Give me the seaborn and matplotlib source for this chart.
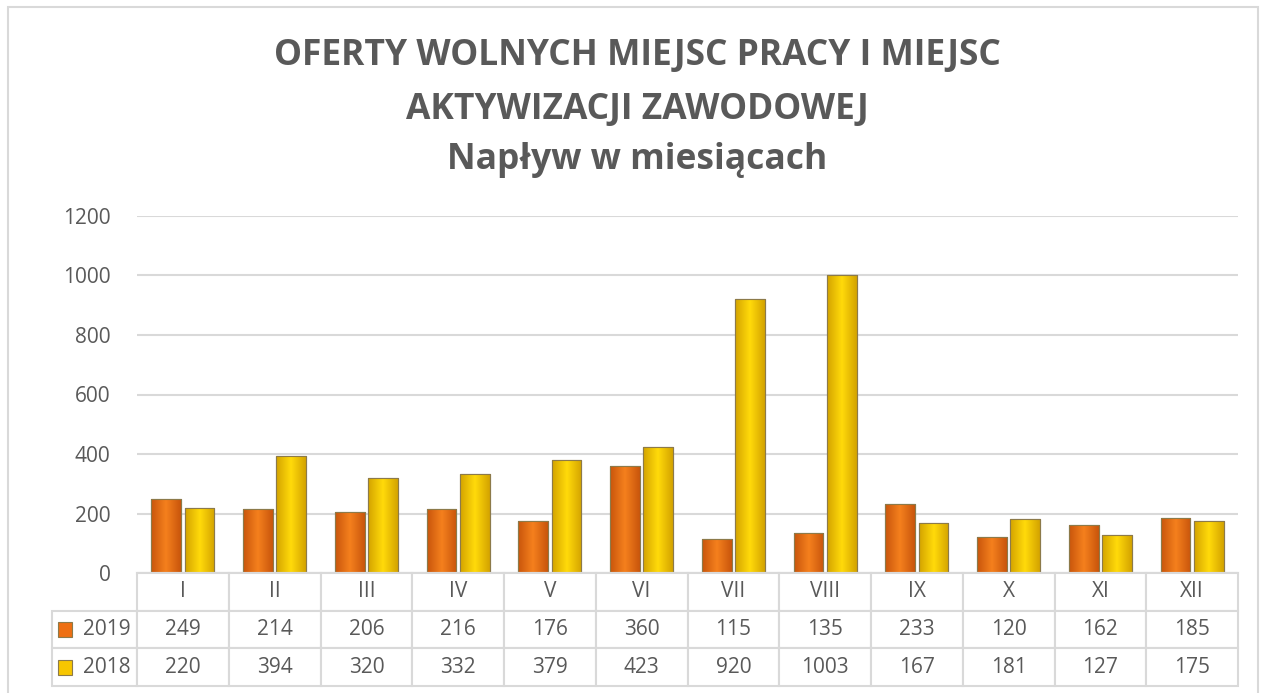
import seaborn as sns
import matplotlib.pyplot as plt
import numpy as np
import pandas as pd
from matplotlib.table import Table
from matplotlib.patches import Rectangle
from matplotlib.colors import LinearSegmentedColormap

# dane z wykresu
miesiace = ["I", "II", "III", "IV", "V", "VI", "VII", "VIII", "IX", "X", "XI", "XII"]
lata = ["2019", "2018"]
oferty_2019 = [249, 214, 206, 216, 176, 360, 115, 135, 233, 120, 162, 185]
oferty_2018 = [220, 394, 320, 332, 379, 423, 920, 1003, 167, 181, 127, 175]

df = pd.DataFrame({
    "miesiac": miesiace * 2,
    "rok": [lata[0]] * 12 + [lata[1]] * 12,
    "oferty": oferty_2019 + oferty_2018,
})

sns.set_style("white")
plt.rcParams['font.family'] = ['Open Sans', 'DejaVu Sans']
szary = "#595959"
linia = "#d9d9d9"
kolory = {"2019": "#EE6F12", "2018": "#F7C600"}
cieniowanie = {
    "2019": LinearSegmentedColormap.from_list("o", ["#C9560C", "#F47F1D"]),
    "2018": LinearSegmentedColormap.from_list("y", ["#D4A400", "#FFD90A"]),
}

fig = plt.figure(figsize=(12.67, 6.93), dpi=100)
W, H = 1267, 693

# ramka wokol calego wykresu
fig.patches.append(Rectangle((8 / W, -0.01), 1250 / W, 1 - 7 / H + 0.01,
                             transform=fig.transFigure, fill=False,
                             edgecolor=linia, linewidth=1.5))

ax = fig.add_axes([137 / W, 1 - 573 / H, 1101 / W, 357 / H])
sns.barplot(data=df, x="miesiac", y="oferty", hue="rok", palette=kolory,
            width=0.72, gap=0.1, order=miesiace, hue_order=lata,
            edgecolor="#8c7a4a", linewidth=0.8, legend=False, ax=ax)

# efekt cieniowania slupkow
gradient = np.concatenate([np.linspace(0, 1, 20), np.linspace(1, 0, 20)])[None, :]
for i, p in enumerate(ax.patches):
    x0, y0 = p.get_x(), p.get_y()
    w, h = p.get_width(), p.get_height()
    if h <= 0:
        continue
    cm = cieniowanie[lata[0] if i < 12 else lata[1]]
    im = ax.imshow(gradient, extent=[x0, x0 + w, y0, y0 + h], aspect="auto",
                   cmap=cm, zorder=p.get_zorder() + 0.1, interpolation="bilinear")
    im.set_clip_path(p)
    ax.add_patch(Rectangle((x0, y0), w, h, fill=False, edgecolor="#8c7a4a",
                           linewidth=0.8, zorder=p.get_zorder() + 0.2))

ax.set_xlim(-0.5, 11.5)
ax.set_ylim(0, 1200)
ax.set_yticks(range(0, 1201, 200))
ax.yaxis.grid(True, color=linia, linewidth=1.5)
ax.set_axisbelow(True)
ax.set_xticks([])
ax.set_xlabel("")
ax.set_ylabel("")
ax.tick_params(axis="y", length=0, pad=19, labelsize=15, labelcolor=szary)
for s in ["top", "right", "left"]:
    ax.spines[s].set_visible(False)
ax.spines["bottom"].set_color(linia)
ax.spines["bottom"].set_linewidth(1.5)

# tabela danych pod wykresem
tax = fig.add_axes([52 / W, 1 - 686 / H, 1186 / W, 113 / H])
tax.axis("off")
tb = Table(tax, bbox=[0, 0, 1, 1])
w0 = 85 / 1186
wk = (1 - w0) / 12
wiersze = [[""] + miesiace,
           ["2019"] + [str(v) for v in oferty_2019],
           ["2018"] + [str(v) for v in oferty_2018]]
for r, wiersz in enumerate(wiersze):
    for c, txt in enumerate(wiersz):
        cell = tb.add_cell(r, c, width=w0 if c == 0 else wk, height=1 / 3,
                           text=txt, loc="right" if c == 0 else "center",
                           edgecolor=linia)
        cell.set_linewidth(1.5)
        cell.get_text().set_fontsize(15)
        cell.get_text().set_color(szary)
        if c == 0:
            cell.PAD = 0.08
        if r == 0 and c == 0:
            cell.visible_edges = ""
tb.auto_set_font_size(False)
tax.add_table(tb)

# znaczniki legendy w tabeli
for r, rok in enumerate(lata):
    yc = 0.5 - r / 3
    tax.add_patch(Rectangle((6 / 1186, yc - 0.065), 14 / 1186, 0.13,
                            facecolor=kolory[rok], edgecolor="#8c7a4a",
                            linewidth=0.8, transform=tax.transAxes))

# tytul
fig.text(0.503, 1 - 56 / H, "OFERTY WOLNYCH MIEJSC PRACY I MIEJSC", ha="center",
         va="center", fontsize=25.5, fontweight="bold", color=szary)
fig.text(0.503, 1 - 110 / H, "AKTYWIZACJI ZAWODOWEJ", ha="center",
         va="center", fontsize=25.5, fontweight="bold", color=szary)
fig.text(0.503, 1 - 160 / H, "Napływ w miesiącach", ha="center",
         va="center", fontsize=25.5, fontweight="bold", color=szary)

plt.savefig("out.png", dpi=100)
